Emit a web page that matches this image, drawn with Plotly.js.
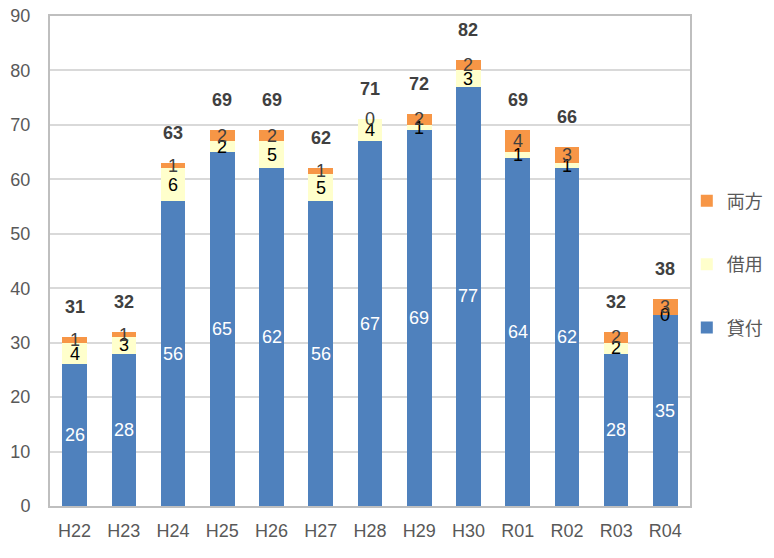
<!DOCTYPE html>
<html>
<head>
<meta charset="utf-8">
<script src="https://cdn.plot.ly/plotly-3.0.1.min.js"></script>
<style>html,body{margin:0;padding:0;background:#fff;}#chart{width:774px;height:558px;}</style>
</head>
<body>
<div id="chart"></div>
<script>
const categories = ["H22","H23","H24","H25","H26","H27","H28","H29","H30","R01","R02","R03","R04"];
const lending = [26,28,56,65,62,56,67,69,77,64,62,28,35];   // 貸付
const borrowing = [4,3,6,2,5,5,4,1,3,1,1,2,0];               // 借用
const both = [1,1,1,2,2,1,0,2,2,4,3,2,3];                    // 両方
const totals = [31,32,63,69,69,62,71,72,82,69,66,32,38];
const yTicks = [0,10,20,30,40,50,60,70,80,90];

const FONT = "Liberation Sans, Arial, Noto Sans CJK JP, sans-serif";

function mk(name, vals, color, group, rank) {
  return {
    type: 'bar', name: name, x: categories, y: vals,
    marker: {color: color}, textposition: 'none',
    legendgroup: group, legendrank: rank, hoverinfo: 'x+y+name'
  };
}

const data = [
  mk('貸付', lending, '#4F81BD', 'a', 3),
  mk('借用', borrowing, '#FFFFCC', 'b', 2),
  mk('両方', both, '#F79646', 'c', 1)
];

const annotations = [];
const series = [[lending, '#FFFFFF'], [borrowing, '#000000'], [both, '#404040']];
categories.forEach((c, i) => {
  let base = 0;
  series.forEach(([vals, col]) => {
    annotations.push({
      x: c, y: base + vals[i] / 2, xref: 'x', yref: 'y',
      text: String(vals[i]), showarrow: false, yanchor: 'middle',
      font: {family: FONT, size: 18, color: col}
    });
    base += vals[i];
  });
  annotations.push({
    x: c, y: totals[i], xref: 'x', yref: 'y',
    text: '<b>' + totals[i] + '</b>', showarrow: false,
    yanchor: 'middle', yshift: 30,
    font: {family: FONT, size: 18, color: '#404040'}
  });
});

const layout = {
  width: 774, height: 558,
  margin: {l: 50, r: 84, t: 16, b: 52, autoexpand: false},
  paper_bgcolor: '#FFFFFF', plot_bgcolor: '#FFFFFF',
  barmode: 'stack', bargap: 0.5,
  font: {family: FONT, size: 18, color: '#595959'},
  xaxis: {
    type: 'category', showgrid: false, ticks: '', showline: true,
    linecolor: '#BFBFBF', linewidth: 2, mirror: true, ticklabelstandoff: 7,
    tickfont: {family: FONT, size: 18, color: '#595959'}
  },
  yaxis: {
    range: [0, 90], tickvals: yTicks, ticks: '', showgrid: true,
    gridcolor: '#D9D9D9', gridwidth: 2, showline: true, linecolor: '#BFBFBF',
    linewidth: 2, mirror: true, zeroline: false, ticklabelstandoff: 14,
    tickfont: {family: FONT, size: 18, color: '#595959'}
  },
  legend: {
    x: 0.995, xanchor: 'left', y: 0.66, yanchor: 'top',
    traceorder: 'grouped', tracegroupgap: 37, itemwidth: 30,
    font: {family: FONT, size: 18, color: '#595959'},
    bgcolor: 'rgba(0,0,0,0)'
  },
  annotations: annotations,
  showlegend: true
};

Plotly.newPlot('chart', data, layout, {displayModeBar: false, staticPlot: true});
</script>
</body>
</html>
